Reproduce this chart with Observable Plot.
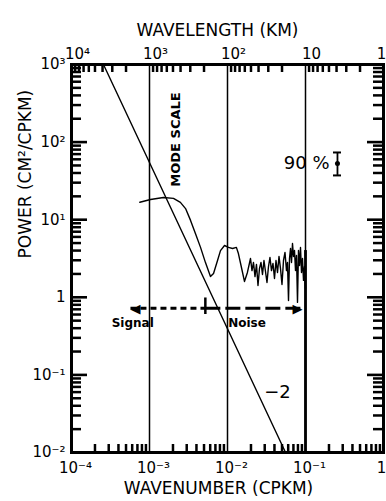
<!DOCTYPE html>
<html><head><meta charset="utf-8">
<script src="https://cdn.jsdelivr.net/npm/d3@7"></script>
<script src="https://cdn.jsdelivr.net/npm/@observablehq/plot@0.6"></script>
<style>
body{margin:0;background:#fff}
#chart svg{font-family:"DejaVu Sans",sans-serif !important;color:#000;background:#fff}
</style>
</head><body><div id="chart"></div>
<script>
// Tick values and labels
const xMajorTicks = [1e-4, 1e-3, 1e-2, 1e-1, 1];
const xBottomLabels = ["10⁻⁴", "10⁻³", "10⁻²", "10⁻¹", "1"];
const xTopLabels = ["10⁴", "10³", "10²", "10", "1"];
const yMajorTicks = [1e-2, 1e-1, 1, 10, 100, 1000];
const yLabels = ["10⁻²", "10⁻¹", "1", "10¹", "10²", "10³"];
const gridX = [1e-3, 1e-2, 1e-1];

// -2 reference slope line
const slopeX = [2.57e-4, 0.0555];
const slopeY = [1000, 0.01];

// Power spectrum (wavenumber CPKM, power CM^2/CPKM)
const specX = [0.000752, 0.00103, 0.00151, 0.00203, 0.00249, 0.00290, 0.00336, 0.00389, 0.00451, 0.00522, 0.00605, 0.00662, 0.00745, 0.00813, 0.00916, 0.0103, 0.0116, 0.0130, 0.0138, 0.0151, 0.0165, 0.0180,
  0.01972, 0.02061, 0.02154, 0.02252, 0.02353, 0.02460, 0.02571, 0.02688, 0.02809, 0.02936, 0.03069, 0.03208, 0.03353, 0.03505, 0.03664, 0.03830, 0.04004, 0.04185, 0.04375, 0.04573, 0.04780, 0.04996, 0.05223, 0.05460, 0.05707, 0.05878, 0.06055, 0.06236, 0.06423, 0.06615, 0.06813, 0.07018, 0.07228, 0.07444, 0.07667, 0.07897, 0.08134, 0.08377, 0.08628, 0.08887, 0.09153, 0.09427, 0.09710, 0.1];
const specY = [16.8, 18.2, 19.3, 18.8, 16.7, 13.9, 9.8, 6.6, 4.4, 2.8, 1.85, 2.03, 2.98, 4.0, 4.65, 4.4, 4.25, 4.4, 3.66, 2.42, 1.60, 2.09,
  3.16, 2.21, 2.81, 1.85, 2.65, 1.42, 2.35, 2.81, 1.97, 2.98, 2.15, 1.55, 2.49, 3.26, 2.21, 2.73, 1.75, 2.98, 2.09, 3.36, 2.35, 1.46, 2.98, 3.78, 2.21, 2.81, 0.91, 3.16, 4.26, 2.81, 4.94, 3.36, 4.01, 2.21, 3.46, 0.86, 4.01, 2.57, 4.38, 2.09, 3.16, 1.65, 2.49, 1.30];

// Signal / Noise arrow
const arrowX = [5.7e-4, 0.0917];
const arrowY = 0.72;
const boundaryX = 5.2e-3;
const boundaryY = [0.6, 0.98];

// 90% confidence bar
const ciX = 0.257;
const ciLow = 37.2, ciMid = 53, ciHigh = 73.5;

// Minor ticks
const decadeFactors = [2, 3, 4, 5, 6, 7, 8, 9];
const xMinor = [], xTopMinor = [], yMinor = [];
for (const n of [-4, -3, -2, -1]) for (const k of decadeFactors) xMinor.push(k * 10 ** n);
for (const n of [0, 1, 2, 3]) for (const k of decadeFactors) xTopMinor.push(1 / (k * 10 ** n));
for (const n of [-2, -1, 0, 1, 2]) for (const k of decadeFactors) yMinor.push(k * 10 ** n);

const W = 386, H = 501, mL = 71, mR = 3, mT = 64, mB = 49;
const fw = W - mL - mR, fh = H - mT - mB;

const spec = specX.map((x, i) => ({x, y: specY[i]}));
const slope = slopeX.map((x, i) => ({x, y: slopeY[i]}));

const chart = Plot.plot({
  width: W, height: H,
  marginLeft: mL, marginRight: mR, marginTop: mT, marginBottom: mB,
  x: {type: "log", domain: [1e-4, 1]},
  y: {type: "log", domain: [1e-2, 1e3]},
  marks: [
    Plot.ruleX(gridX, {stroke: "black", strokeWidth: 1.5}),
    Plot.ruleX([0.1], {y1: 0.01, y2: 4, stroke: "black", strokeWidth: 2.8}),
    // tick labels
    Plot.axisX(xMajorTicks.slice(0, 4), {anchor: "bottom", tickSize: 0, tickPadding: 10, dx: 4, fontSize: 15,
      tickFormat: d => xBottomLabels[xMajorTicks.indexOf(d)], label: null}),
    Plot.axisX(xMajorTicks.slice(4), {anchor: "bottom", tickSize: 0, tickPadding: 10, dx: -2, fontSize: 15,
      tickFormat: d => xBottomLabels[xMajorTicks.indexOf(d)], label: null}),
    Plot.axisX(xMajorTicks.slice(0, 4), {anchor: "top", tickSize: 0, tickPadding: 6, dx: 6, fontSize: 15,
      tickFormat: d => xTopLabels[xMajorTicks.indexOf(d)], label: null}),
    Plot.axisX(xMajorTicks.slice(4), {anchor: "top", tickSize: 0, tickPadding: 6, dx: -2, fontSize: 15,
      tickFormat: d => xTopLabels[xMajorTicks.indexOf(d)], label: null}),
    Plot.axisY(yMajorTicks, {anchor: "left", tickSize: 0, tickPadding: 6, fontSize: 15,
      tickFormat: d => yLabels[yMajorTicks.indexOf(d)], label: null}),
    Plot.text(["WAVELENGTH (KM)"], {text: d => d, frameAnchor: "top", dy: -41, dx: -10, fontSize: 17}),
    Plot.text(["WAVENUMBER (CPKM)"], {text: d => d, frameAnchor: "bottom", dy: 41, dx: -9, fontSize: 17}),
    Plot.text(["POWER (CM²/CPKM)"], {text: d => d, frameAnchor: "left", dx: -46, rotate: -90, fontSize: 17}),
    // data
    Plot.line(slope, {x: "x", y: "y", stroke: "black", strokeWidth: 1.4}),
    Plot.line(spec, {x: "x", y: "y", stroke: "black", strokeWidth: 1.4, strokeLinejoin: "round"}),
    // annotations
    Plot.text([{x: 2.15e-3, y: 108}], {x: "x", y: "y", text: () => "MODE SCALE", rotate: -90, fontSize: 13, fontWeight: "bold"}),
    Plot.text([{x: 0.0438, y: 0.059}], {x: "x", y: "y", text: () => "−2", fontSize: 18}),
    Plot.text([{x: 0.203, y: ciMid}], {x: "x", y: "y", text: () => "90 %", textAnchor: "end", fontSize: 18}),
    Plot.ruleX([{x: ciX, a: ciLow, b: ciHigh}], {x: "x", y1: "a", y2: "b", stroke: "black", strokeWidth: 1.8}),
    Plot.ruleY([ciLow, ciHigh], {y: d => d, x1: () => ciX, x2: () => ciX, insetLeft: -4, insetRight: -4, stroke: "black", strokeWidth: 2}),
    Plot.dot([{x: ciX, y: ciMid}], {x: "x", y: "y", r: 2.5, fill: "black"}),
    Plot.link([{x1: arrowX[0], x2: boundaryX, y: arrowY}], {x1: "x1", x2: "x2", y1: "y", y2: "y", stroke: "black", strokeWidth: 3, strokeDasharray: "6,4"}),
    Plot.link([{x1: boundaryX, x2: arrowX[1], y: arrowY}], {x1: "x1", x2: "x2", y1: "y", y2: "y", stroke: "black", strokeWidth: 3, strokeDasharray: "15,5"}),
    Plot.text([{x: arrowX[0], y: arrowY}], {x: "x", y: "y", text: () => "◀", textAnchor: "start", fontSize: 13}),
    Plot.text([{x: arrowX[1], y: arrowY}], {x: "x", y: "y", text: () => "▶", textAnchor: "end", fontSize: 13}),
    Plot.ruleX([{x: boundaryX, a: boundaryY[0], b: boundaryY[1]}], {x: "x", y1: "a", y2: "b", stroke: "black", strokeWidth: 2.5}),
    Plot.text([{x: 6.1e-4, y: 0.46, t: "Signal"}, {x: 0.0178, y: 0.46, t: "Noise"}], {x: "x", y: "y", text: "t", fontSize: 12, fontWeight: "bold"}),
    // inward ticks and frame, drawn last
    Plot.ruleX(xMinor, {insetTop: fh - 8, stroke: "black", strokeWidth: 2.5}),
    Plot.ruleX(xTopMinor, {insetBottom: fh - 8, stroke: "black", strokeWidth: 2.5}),
    Plot.ruleY(yMinor, {insetRight: fw - 10, stroke: "black", strokeWidth: 2.5}),
    Plot.ruleY(yMinor, {insetLeft: fw - 10, stroke: "black", strokeWidth: 2.5}),
    Plot.ruleY(yMajorTicks, {insetRight: fw - 16, stroke: "black", strokeWidth: 2.6}),
    Plot.ruleY(yMajorTicks, {insetLeft: fw - 16, stroke: "black", strokeWidth: 2.6}),
    Plot.frame({stroke: "black", strokeWidth: 3})
  ]
});
document.getElementById("chart").append(chart);
</script>
</body></html>
